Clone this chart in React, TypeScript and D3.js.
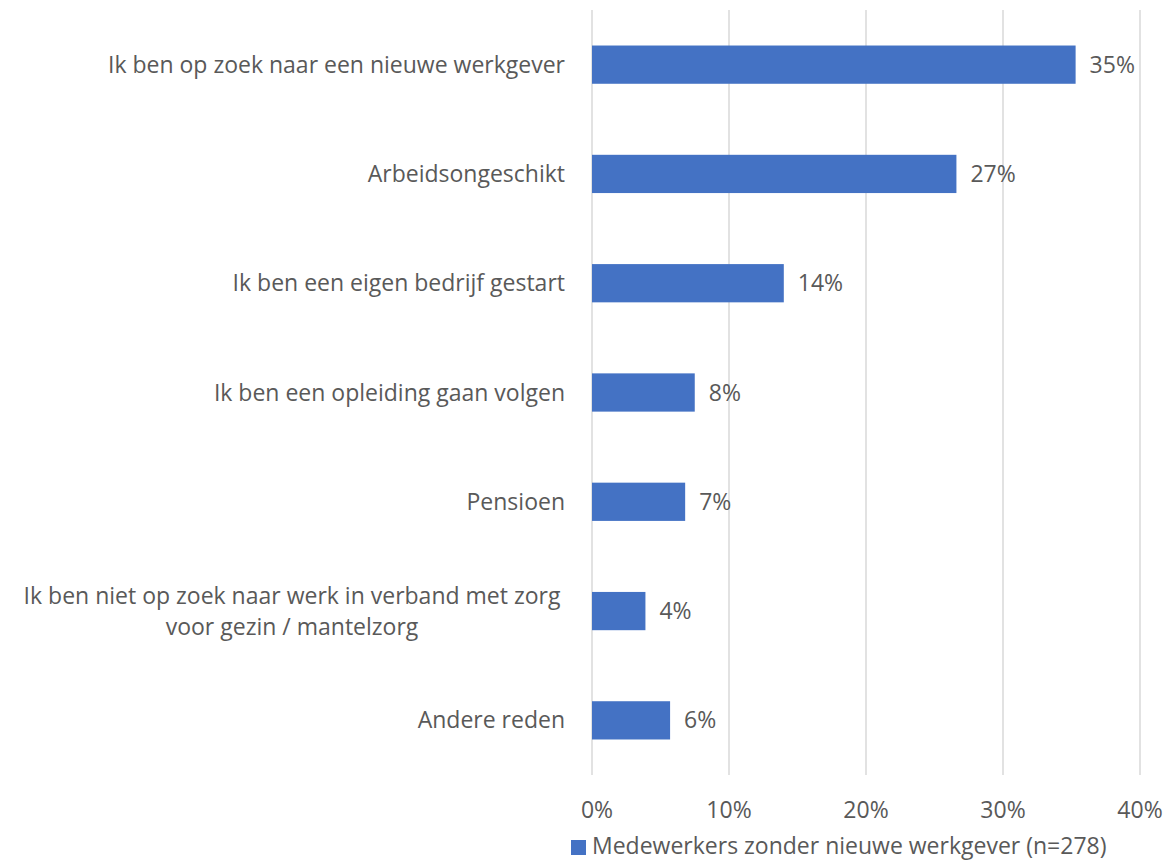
import React from "react";
import * as d3 from "d3";

const categories = [
  ["Ik ben op zoek naar een nieuwe werkgever"],
  ["Arbeidsongeschikt"],
  ["Ik ben een eigen bedrijf gestart"],
  ["Ik ben een opleiding gaan volgen"],
  ["Pensioen"],
  ["Ik ben niet op zoek naar werk in verband met zorg", "voor gezin / mantelzorg"],
  ["Andere reden"],
];
const values = [35.3, 26.6, 14.0, 7.5, 6.8, 3.9, 5.7];
const valueLabels = ["35%", "27%", "14%", "8%", "7%", "4%", "6%"];
const ticks = [0, 10, 20, 30, 40];
const seriesName = "Medewerkers zonder nieuwe werkgever (n=278)";

const W = 1175;
const H = 860;
const left = 592;
const right = 1140;
const top = 10;
const bottom = 775;
const font = "'Open Sans', Lato, sans-serif";
const textColor = "#595959";
const fs = 23;

export default function App() {
  const x = d3.scaleLinear().domain([0, 40]).range([left, right]);
  const y = d3
    .scaleBand<number>()
    .domain(d3.range(categories.length))
    .range([top, bottom])
    .paddingInner(0.65)
    .paddingOuter(0.325);
  const bw = y.bandwidth();
  return (
    <svg
      width={W}
      height={H}
      style={{ position: "absolute", left: 0, top: 0 }}
      fontFamily={font}
    >
      <rect width={W} height={H} fill="#fff" />
      {ticks.map((t) => (
        <line
          key={t}
          x1={x(t)}
          x2={x(t)}
          y1={top}
          y2={bottom}
          stroke="#d9d9d9"
          strokeWidth={1.5}
        />
      ))}
      {values.map((v, i) => {
        const yc = (y(i) as number) + bw / 2;
        const lines = categories[i];
        const multi = lines.length > 1;
        return (
          <g key={i}>
            <rect
              x={x(0)}
              y={y(i)}
              width={x(v) - x(0)}
              height={bw}
              fill="#4472C4"
            />
            <text x={x(v) + 14} y={yc + 8} fontSize={fs} fill={textColor}>
              {valueLabels[i]}
            </text>
            {lines.map((l, j) => (
              <text
                key={j}
                x={multi ? 292 : 565}
                y={yc + 8 + (j - (lines.length - 1) / 2) * 31}
                fontSize={fs}
                fill={textColor}
                textAnchor={multi ? "middle" : "end"}
              >
                {l}
              </text>
            ))}
          </g>
        );
      })}
      {ticks.map((t) => (
        <text
          key={t}
          x={x(t) + (t === 0 ? 5 : 0)}
          y={818}
          fontSize={fs}
          fill={textColor}
          textAnchor="middle"
        >
          {t + "%"}
        </text>
      ))}
      <rect x={571} y={840} width={15} height={15} fill="#4472C4" />
      <text x={592} y={854} fontSize={fs} fill={textColor}>
        {seriesName}
      </text>
    </svg>
  );
}
